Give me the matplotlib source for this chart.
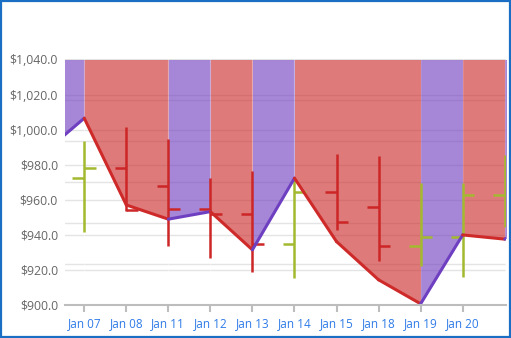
import numpy as np
import matplotlib
matplotlib.use('Agg')
import matplotlib.pyplot as plt
from matplotlib.patches import Rectangle
from matplotlib.ticker import FuncFormatter

# trading days; first and last two sit outside the visible window
days = ['Jan 06', 'Jan 07', 'Jan 08', 'Jan 11', 'Jan 12', 'Jan 13', 'Jan 14',
        'Jan 15', 'Jan 18', 'Jan 19', 'Jan 20', 'Jan 21', 'Jan 22']
visible_days = days[1:11]

# line series (price trend)
trend = [986.0, 1006.5, 957.0, 948.9, 953.2, 931.4, 972.3,
         936.1, 914.3, 900.6, 939.9, 937.5, 950.0]

# OHLC series
opens = [975.0, 972.3, 978.3, 968.0, 954.7, 951.9, 934.8,
         964.6, 955.7, 933.6, 938.6, 962.7, 975.0]
highs = [990.0, 993.5, 1001.3, 994.5, 972.3, 976.4, 971.3,
         985.9, 985.0, 969.4, 969.4, 985.5, 990.0]
lows = [960.0, 941.8, 953.5, 933.8, 926.6, 919.0, 915.2,
        942.8, 925.1, 922.2, 915.8, 944.3, 960.0]
closes = [972.3, 978.3, 954.2, 954.6, 951.9, 934.8, 964.6,
          947.5, 933.6, 938.6, 962.7, 975.0, 980.0]

UP_FILL = (0.44, 0.24, 0.75)
DOWN_FILL = (0.80, 0.16, 0.16)
UP_LINE = '#6e3fc1'
DOWN_LINE = '#cf2a2a'
OHLC_UP = '#a3b92f'
OHLC_DOWN = '#cc2626'

ymin, ymax = 900, 1040

fig = plt.figure(figsize=(5.11, 3.38), dpi=100)
ax = fig.add_axes([0.127, 0.098, 0.864, 0.726])

xs = np.arange(len(days)) - 1

# gridlines: price ticks plus the six-way split of the range
for v in np.arange(ymin, ymax + 1, 20):
    ax.axhline(v, color='#e4e4e4', lw=1.0, zorder=0)
for v in np.linspace(ymin, ymax, 7)[1:-1]:
    ax.axhline(v, color='#e4e4e4', lw=1.0, zorder=0)

# fill above the line; consecutive segments with the same direction share one patch
rising = [trend[i + 1] > trend[i] for i in range(len(trend) - 1)]
start = 0
for i in range(1, len(rising) + 1):
    if i == len(rising) or rising[i] != rising[start]:
        ax.fill_between(xs[start:i + 1], trend[start:i + 1], ymax,
                        color=UP_FILL if rising[start] else DOWN_FILL,
                        alpha=0.62, lw=0, zorder=1)
        ax.axvline(xs[i], color='white', alpha=0.35, lw=0.8, zorder=1)
        start = i

# OHLC bars
tick = 0.28
for x, o, h, l, c in zip(xs, opens, highs, lows, closes):
    col = OHLC_UP if c >= o else OHLC_DOWN
    ax.plot([x, x], [l, h], color=col, lw=1.8, solid_capstyle='butt', zorder=3)
    ax.plot([x - tick, x], [o, o], color=col, lw=1.8, solid_capstyle='butt', zorder=3)
    ax.plot([x, x + tick], [c, c], color=col, lw=1.8, solid_capstyle='butt', zorder=3)

# trend line, coloured by segment
for i in range(len(xs) - 1):
    ax.plot([xs[i], xs[i + 1]], [trend[i], trend[i + 1]],
            color=UP_LINE if rising[i] else DOWN_LINE, lw=2.2,
            solid_capstyle='round', zorder=4)

ax.set_xlim(-0.46, 10.04)
ax.set_ylim(ymin, ymax)

ax.set_xticks(range(len(visible_days)))
ax.set_xticklabels(visible_days)
ax.set_yticks(np.arange(ymin, ymax + 1, 20))
ax.yaxis.set_major_formatter(FuncFormatter(lambda v, p: f'${v:,.1f}'))

for s in ['top', 'right', 'left']:
    ax.spines[s].set_visible(False)
ax.spines['bottom'].set_color('#bdbdbd')
ax.spines['bottom'].set_linewidth(1.5)
ax.spines['bottom'].set_zorder(5)

ax.tick_params(axis='x', colors='#bdbdbd', length=5, width=1.5, pad=4,
               labelcolor='#2f7be8', labelsize=8.5)
ax.tick_params(axis='y', length=0, pad=5, labelcolor='#666666', labelsize=8.8)
for lab in ax.get_xticklabels() + ax.get_yticklabels():
    lab.set_fontfamily('Open Sans')

# frame round the whole chart
fig.patches.append(Rectangle((0.001, 0.002), 0.997, 0.996, transform=fig.transFigure,
                             fill=False, edgecolor='#1a6fc4', lw=1.6))

plt.savefig('out.png', dpi=100)
